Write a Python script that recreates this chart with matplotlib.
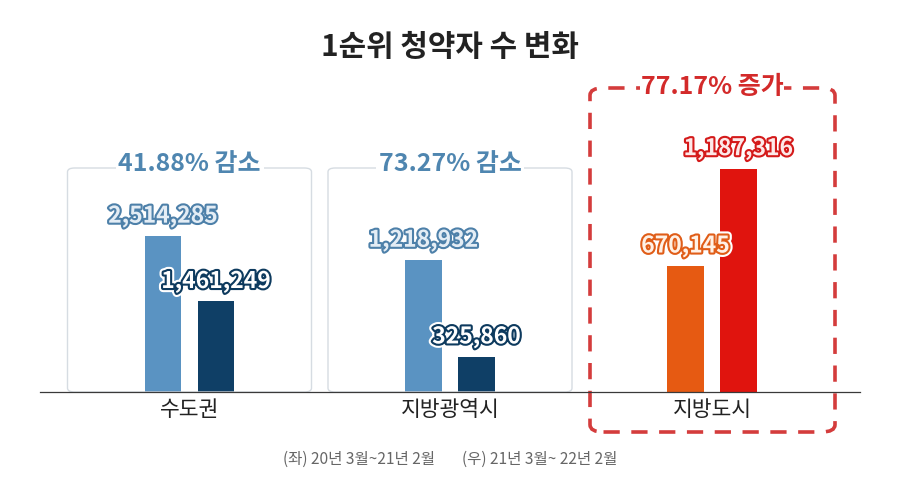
import matplotlib
matplotlib.use("Agg")
import matplotlib.pyplot as plt
import matplotlib.patheffects as pe
from matplotlib.patches import FancyBboxPatch
from matplotlib.lines import Line2D

plt.rcParams['font.family'] = ['Noto Sans CJK KR', 'DejaVu Sans']

# ---- data ----
title = "1순위 청약자 수 변화"
categories = ["수도권", "지방광역시", "지방도시"]
before = [2514285, 1218932, 670145]   # (좌) 20년 3월~21년 2월
after = [1461249, 325860, 1187316]    # (우) 21년 3월~22년 2월
change_labels = ["41.88% 감소", "73.27% 감소", "77.17% 증가"]
footer_left = "(좌) 20년 3월~21년 2월"
footer_right = "(우) 21년 3월~ 22년 2월"

# ---- style ----
W, H = 900, 483
bar_colors = [("#5a93c2", "#0f3f66"), ("#5a93c2", "#0f3f66"), ("#e65a12", "#e0140e")]
label_fill = [("#e4edf5", "#ffffff"), ("#e4edf5", "#ffffff"), ("#fff1e6", "#fde9e9")]
label_edge = [("#4d80a9", "#0d3a5e"), ("#4d80a9", "#0d3a5e"), ("#e05d18", "#d41a1a")]
pct_colors = ["#4f86b0", "#4f86b0", "#d32a2a"]
scale_max = [3.61e6, 2.07e6, 1.19e6]   # per-panel axis scale
centers_px = [189.5, 450, 712]
panel_w = 244
base_y = 392
top_y = 168

fig = plt.figure(figsize=(W / 100, H / 100), dpi=100)
fig.patch.set_facecolor("white")

def fx(x):
    return x / W

def fy(y):
    return 1 - y / H

# title
fig.text(0.5, fy(47), title, ha="center", va="center", fontsize=21.5,
         fontweight="bold", color="#222222")

# baseline
fig.add_artist(Line2D([fx(40), fx(860)], [fy(base_y), fy(base_y)],
                      color="#3a3a3a", lw=0.9, zorder=5))

# boxes
for i in range(2):
    c = centers_px[i]
    fig.add_artist(FancyBboxPatch((fx(c - panel_w / 2), fy(base_y)),
                                  fx(panel_w), (base_y - top_y) / H,
                                  boxstyle="round,pad=0,rounding_size=0.008",
                                  transform=fig.transFigure, fill=False,
                                  edgecolor="#d6dce2", lw=1.0, zorder=1))
c = centers_px[2]
fig.add_artist(FancyBboxPatch((fx(c - 122), fy(432)), fx(245), (432 - 88) / H,
                              boxstyle="round,pad=0,rounding_size=0.015",
                              transform=fig.transFigure, fill=False,
                              edgecolor="#d43c3c", lw=2.6, linestyle=(0, (4.5, 3.2)),
                              zorder=1))

for i in range(3):
    c = centers_px[i]
    ax = fig.add_axes([fx(c - panel_w / 2), fy(base_y), fx(panel_w), (base_y - top_y) / H])
    ax.set_xlim(-1.8, 2.8)
    ax.set_ylim(0, scale_max[i])
    ax.axis("off")
    vals = [before[i], after[i]]
    bars = ax.bar([0, 1], vals, width=0.68, color=bar_colors[i], zorder=3)
    for j, (b, v) in enumerate(zip(bars, vals)):
        ax.annotate(f"{v:,}", (b.get_x() + b.get_width() / 2, v),
                    xytext=(0, 6), textcoords="offset points",
                    ha="center", va="bottom", fontsize=16.5, fontweight="bold",
                    color=label_fill[i][j], zorder=6, annotation_clip=False,
                    path_effects=[pe.Stroke(linewidth=6, foreground="white"),
                                  pe.Stroke(linewidth=3, foreground=label_edge[i][j]),
                                  pe.Normal()])
    # category label
    fig.text(fx(c), fy(410), categories[i], ha="center", va="center",
             fontsize=15.5, color="#222222")

# change labels
pct_y = [164, 164, 87]
pct_pad = [2, 2, 0.6]
for i in range(3):
    fig.text(fx(centers_px[i]), fy(pct_y[i]), change_labels[i], ha="center", va="center",
             fontsize=18, fontweight="bold", color=pct_colors[i], zorder=10,
             bbox=dict(facecolor="white", edgecolor="none", pad=pct_pad[i]))

# footer
fig.text(fx(283), fy(459), footer_left, ha="left", va="center", fontsize=11.2, color="#666666")
fig.text(fx(462), fy(459), footer_right, ha="left", va="center", fontsize=11.2, color="#666666")

fig.savefig("out.png", dpi=100, facecolor="white")
